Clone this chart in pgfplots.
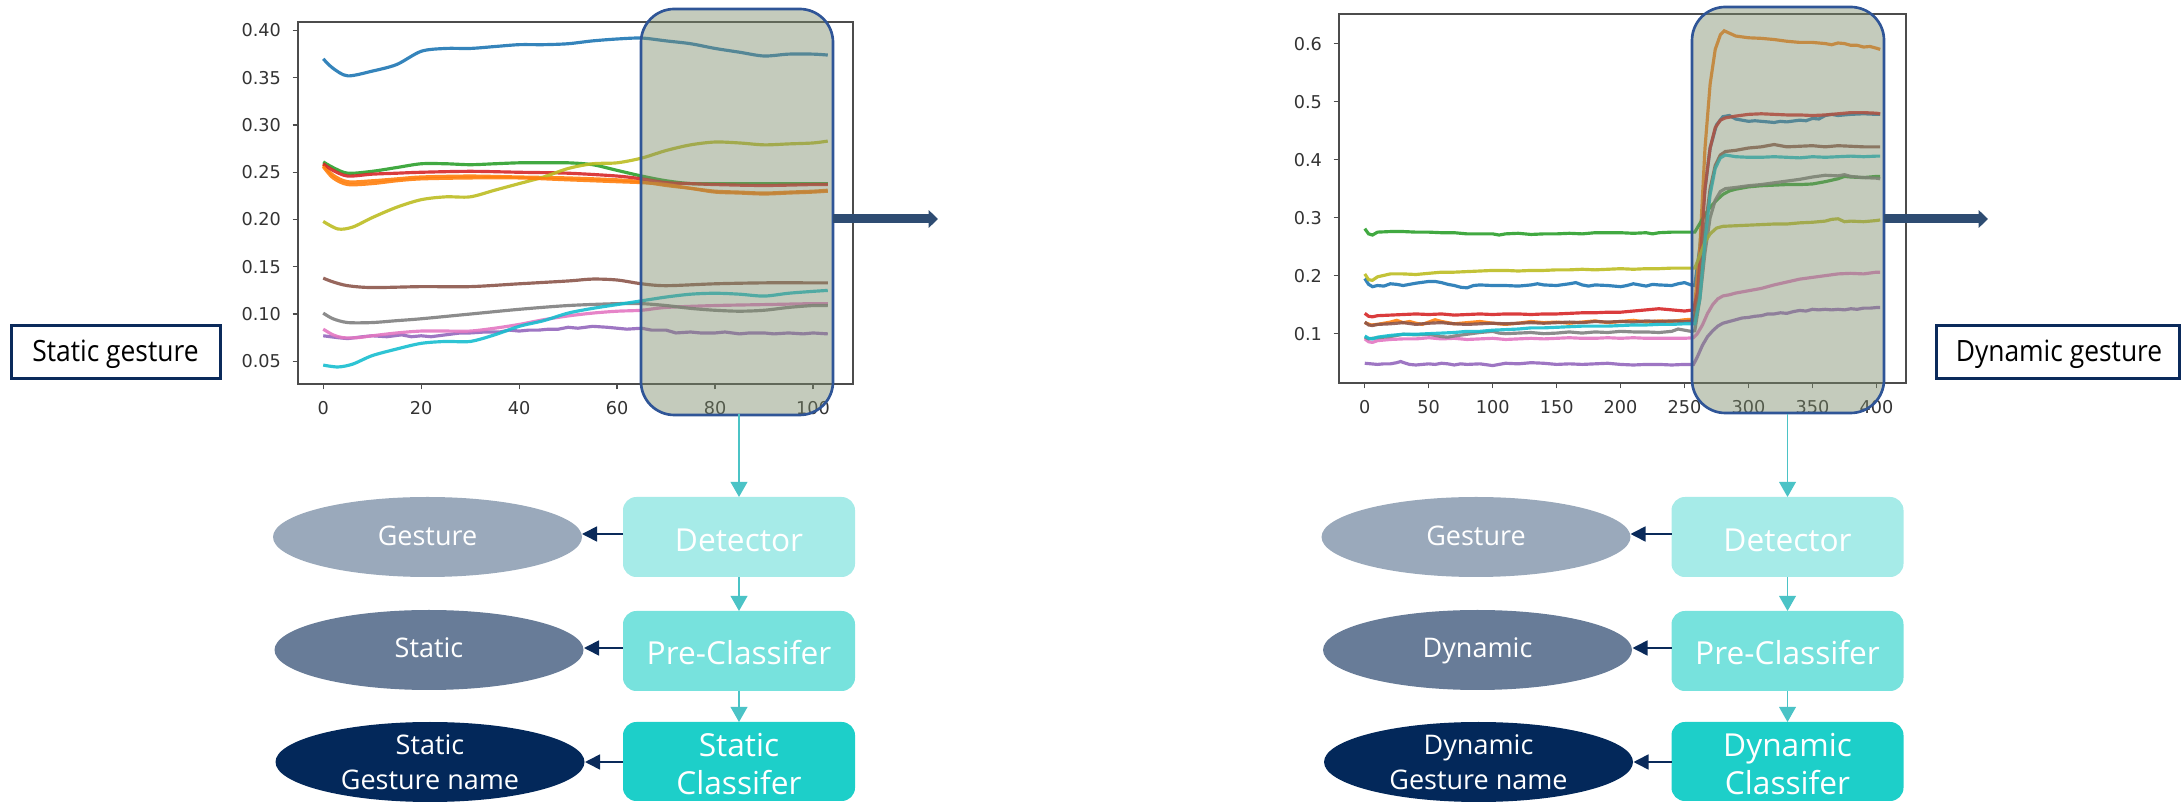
\documentclass[border=0pt]{standalone}
\usepackage{fontspec}
\usepackage{pgfplots}
\pgfplotsset{compat=1.18}
\usetikzlibrary{arrows.meta}
\setmainfont{Open Sans}
\newfontfamily\tickfont{DejaVu Sans}
\newfontfamily\labfont[FakeStretch=0.9]{Open Sans}
\definecolor{C0}{HTML}{1F77B4}
\definecolor{C1}{HTML}{FF7F0E}
\definecolor{C2}{HTML}{2CA02C}
\definecolor{C3}{HTML}{D62728}
\definecolor{C4}{HTML}{9467BD}
\definecolor{C5}{HTML}{8C564B}
\definecolor{C6}{HTML}{E377C2}
\definecolor{C7}{HTML}{7F7F7F}
\definecolor{C8}{HTML}{BCBD22}
\definecolor{C9}{HTML}{17BECF}
\definecolor{detc}{HTML}{A6EBE8}
\definecolor{prec}{HTML}{77E2DD}
\definecolor{clsc}{HTML}{1DCFC9}
\definecolor{ellA}{HTML}{9AA9BB}
\definecolor{ellB}{HTML}{687C98}
\definecolor{ellC}{HTML}{03285A}
\definecolor{navy}{HTML}{0A2A5A}
\definecolor{tealarr}{HTML}{4BC3C6}
\definecolor{bigarr}{HTML}{2E4C72}
\definecolor{hlb}{HTML}{2F5597}
\definecolor{hlf}{RGB}{124,139,106}
\definecolor{boxb}{HTML}{0B2A5B}
\begin{document}
\begin{tikzpicture}[x=0.3pt,y=-0.3pt]
\path[use as bounding box] (0,0) rectangle (2181,802);
\pgfplotsset{mpl/.style={scale only axis,
  axis line style={draw=black!70, line width=0.45pt},
  tick align=outside, xtick pos=bottom, ytick pos=left,
  major tick length=1.6pt,
  tick style={draw=black!70, line width=0.4pt},
  ticklabel style={font=\tickfont\fontsize{5.3}{6}\selectfont, text=black!80},
  /pgf/number format/assume math mode=true,
  every axis plot/.append style={line width=0.95pt, opacity=0.9}}}
% ---------------- left plot ----------------
\begin{axis}[mpl, at={(89.4pt,-115.2pt)}, anchor=south west, width=166.5pt, height=108.6pt,
  xmin=-5.15, xmax=108.15, ymin=0.026, ymax=0.409,
  xtick={0,20,40,60,80,100}, ytick={0.05,0.1,0.15,0.2,0.25,0.3,0.35,0.4},
  yticklabel style={/pgf/number format/.cd, fixed, fixed zerofill, precision=2}]
\addplot[C0, smooth] coordinates {(0,0.370)(2,0.360)(5,0.352)(10,0.357)(15,0.364)(20,0.378)(25,0.381)(30,0.381)(35,0.383)(40,0.385)(45,0.385)(50,0.386)(55,0.389)(60,0.391)(65,0.392)(70,0.389)(75,0.386)(80,0.381)(85,0.377)(90,0.373)(95,0.375)(100,0.375)(103,0.374)};
\addplot[C1, smooth] coordinates {(0,0.258)(2,0.247)(5,0.240)(10,0.241)(15,0.243)(20,0.245)(30,0.246)(40,0.245)(50,0.244)(60,0.242)(65,0.240)(70,0.236)(75,0.233)(80,0.230)(85,0.229)(90,0.228)(95,0.229)(100,0.230)(103,0.231)};
\addplot[C2, smooth] coordinates {(0,0.261)(2,0.255)(5,0.249)(10,0.251)(15,0.255)(20,0.259)(25,0.259)(30,0.258)(35,0.259)(40,0.260)(45,0.260)(50,0.260)(55,0.258)(60,0.252)(65,0.246)(70,0.241)(75,0.238)(80,0.238)(90,0.238)(100,0.238)(103,0.238)};
\addplot[C3, smooth] coordinates {(0,0.259)(2,0.252)(5,0.246)(10,0.248)(15,0.249)(20,0.250)(30,0.251)(40,0.250)(50,0.249)(60,0.246)(65,0.243)(70,0.239)(75,0.238)(80,0.237)(90,0.236)(100,0.237)(103,0.237)};
\addplot[C4] coordinates {(0,0.077)(3,0.075)(5,0.074)(8,0.076)(10,0.077)(13,0.076)(16,0.078)(18,0.076)(20,0.077)(22,0.076)(25,0.078)(28,0.080)(30,0.080)(33,0.081)(36,0.081)(38,0.083)(40,0.082)(42,0.083)(44,0.083)(46,0.084)(48,0.084)(50,0.086)(52,0.085)(55,0.087)(58,0.086)(60,0.085)(62,0.084)(65,0.085)(67,0.083)(70,0.083)(72,0.080)(75,0.081)(77,0.080)(80,0.080)(82,0.081)(85,0.079)(87,0.080)(90,0.080)(92,0.079)(95,0.080)(98,0.079)(100,0.080)(103,0.079)};
\addplot[C5, smooth] coordinates {(0,0.138)(2,0.134)(5,0.130)(10,0.128)(20,0.129)(30,0.129)(40,0.132)(50,0.135)(55,0.137)(60,0.136)(65,0.132)(70,0.130)(80,0.132)(90,0.133)(100,0.133)(103,0.133)};
\addplot[C6, smooth] coordinates {(0,0.084)(2,0.078)(4,0.075)(7,0.075)(10,0.077)(15,0.080)(20,0.082)(25,0.082)(30,0.082)(35,0.085)(40,0.089)(45,0.094)(50,0.098)(55,0.101)(60,0.103)(65,0.104)(70,0.107)(80,0.109)(90,0.110)(100,0.111)(103,0.111)};
\addplot[C7, smooth] coordinates {(0,0.101)(2,0.095)(5,0.091)(10,0.091)(15,0.093)(20,0.095)(30,0.100)(40,0.105)(50,0.109)(60,0.111)(65,0.111)(70,0.109)(75,0.106)(80,0.104)(85,0.103)(90,0.104)(95,0.107)(100,0.109)(103,0.109)};
\addplot[C8, smooth] coordinates {(0,0.198)(3,0.190)(6,0.192)(10,0.202)(15,0.213)(20,0.221)(25,0.224)(30,0.224)(35,0.231)(40,0.238)(45,0.245)(50,0.254)(55,0.259)(60,0.260)(65,0.265)(70,0.273)(75,0.279)(80,0.282)(85,0.281)(90,0.279)(95,0.280)(100,0.281)(103,0.283)};
\addplot[C9, smooth] coordinates {(0,0.046)(3,0.044)(6,0.047)(10,0.056)(15,0.063)(20,0.069)(25,0.071)(30,0.071)(35,0.078)(40,0.087)(45,0.093)(50,0.101)(55,0.106)(60,0.110)(65,0.114)(70,0.118)(75,0.121)(80,0.122)(85,0.121)(90,0.119)(95,0.122)(100,0.124)(103,0.125)};
\addplot[C1, smooth] coordinates {(0,0.256)(2,0.244)(5,0.237)(10,0.238)(15,0.241)(20,0.243)(30,0.244)(40,0.244)(50,0.242)(60,0.240)(65,0.239)(70,0.237)(75,0.233)(80,0.229)(85,0.228)(90,0.227)(95,0.228)(100,0.229)(103,0.230)};
\end{axis}
% ---------------- right plot ----------------
\begin{axis}[mpl, at={(401.7pt,-114.9pt)}, anchor=south west, width=170.1pt, height=110.7pt,
  xmin=-20.15, xmax=423.15, ymin=0.015, ymax=0.651,
  xtick={0,50,100,150,200,250,300,350,400}, ytick={0.1,0.2,0.3,0.4,0.5,0.6},
  yticklabel style={/pgf/number format/.cd, fixed, fixed zerofill, precision=1}]
\addplot[C0] coordinates {(0,0.195)(3,0.185)(6,0.181)(10,0.183)(15,0.182)(20,0.186)(25,0.185)(30,0.183)(40,0.187)(50,0.190)(55,0.190)(60,0.188)(65,0.185)(70,0.183)(75,0.180)(80,0.179)(85,0.183)(90,0.184)(100,0.183)(110,0.183)(120,0.182)(130,0.184)(135,0.186)(140,0.184)(150,0.183)(160,0.186)(165,0.188)(170,0.184)(175,0.182)(180,0.184)(190,0.183)(200,0.181)(205,0.183)(210,0.186)(215,0.184)(220,0.182)(225,0.185)(230,0.184)(240,0.183)(245,0.186)(250,0.188)(255,0.184)(258,0.183)(262,0.25)(266,0.35)(270,0.42)(275,0.46)(280,0.474)(285,0.476)(290,0.470)(295,0.468)(300,0.466)(305,0.467)(310,0.466)(320,0.464)(325,0.466)(330,0.465)(340,0.468)(345,0.467)(350,0.471)(355,0.470)(360,0.476)(365,0.478)(370,0.476)(380,0.478)(390,0.479)(400,0.478)(403,0.478)};
\addplot[C1] coordinates {(0,0.119)(5,0.115)(10,0.116)(15,0.118)(20,0.120)(25,0.123)(30,0.119)(35,0.121)(40,0.118)(45,0.116)(50,0.120)(55,0.124)(60,0.121)(70,0.117)(80,0.119)(90,0.121)(100,0.118)(110,0.116)(120,0.118)(130,0.121)(140,0.119)(150,0.120)(160,0.118)(170,0.120)(180,0.122)(190,0.119)(200,0.121)(210,0.123)(220,0.120)(230,0.122)(240,0.121)(250,0.124)(257,0.125)(262,0.25)(266,0.42)(270,0.53)(274,0.59)(278,0.615)(281,0.622)(285,0.618)(290,0.613)(300,0.610)(310,0.609)(320,0.607)(330,0.604)(340,0.602)(350,0.602)(360,0.600)(365,0.598)(370,0.601)(375,0.600)(380,0.597)(385,0.597)(390,0.594)(395,0.595)(400,0.592)(403,0.590)};
\addplot[C2] coordinates {(0,0.281)(3,0.272)(6,0.270)(10,0.275)(20,0.276)(30,0.276)(40,0.275)(50,0.275)(60,0.274)(70,0.274)(80,0.272)(90,0.272)(100,0.272)(105,0.270)(110,0.272)(120,0.273)(130,0.271)(140,0.272)(150,0.272)(160,0.273)(170,0.272)(180,0.274)(190,0.274)(200,0.274)(210,0.273)(220,0.274)(225,0.272)(230,0.274)(240,0.275)(250,0.275)(258,0.275)(262,0.290)(266,0.305)(270,0.318)(275,0.330)(280,0.340)(285,0.346)(290,0.349)(300,0.353)(310,0.355)(320,0.356)(330,0.357)(340,0.357)(350,0.358)(360,0.362)(370,0.367)(375,0.371)(380,0.370)(390,0.369)(400,0.371)(403,0.371)};
\addplot[C3] coordinates {(0,0.135)(3,0.130)(6,0.129)(10,0.131)(20,0.132)(30,0.133)(40,0.134)(50,0.133)(60,0.134)(70,0.132)(80,0.133)(90,0.134)(100,0.133)(110,0.134)(120,0.134)(130,0.133)(140,0.134)(150,0.134)(160,0.135)(170,0.136)(180,0.136)(190,0.137)(200,0.137)(210,0.139)(220,0.141)(230,0.143)(240,0.141)(250,0.139)(257,0.141)(260,0.17)(263,0.25)(266,0.35)(270,0.42)(274,0.455)(278,0.468)(282,0.472)(290,0.475)(300,0.478)(310,0.479)(320,0.478)(330,0.477)(340,0.477)(350,0.476)(360,0.477)(370,0.479)(380,0.481)(390,0.481)(400,0.480)(403,0.479)};
\addplot[C4] coordinates {(0,0.049)(5,0.048)(10,0.047)(15,0.048)(20,0.048)(25,0.050)(28,0.052)(32,0.049)(35,0.047)(40,0.046)(45,0.047)(50,0.048)(55,0.047)(60,0.049)(65,0.048)(70,0.046)(75,0.048)(80,0.047)(90,0.048)(100,0.045)(105,0.047)(110,0.049)(120,0.048)(130,0.050)(140,0.049)(150,0.047)(160,0.048)(170,0.047)(180,0.048)(190,0.049)(200,0.047)(210,0.046)(220,0.047)(230,0.047)(240,0.046)(250,0.047)(257,0.047)(260,0.060)(264,0.080)(268,0.095)(272,0.105)(276,0.113)(280,0.118)(285,0.121)(290,0.124)(295,0.127)(300,0.128)(305,0.130)(310,0.131)(315,0.134)(320,0.134)(325,0.136)(330,0.135)(335,0.138)(340,0.140)(345,0.139)(350,0.142)(355,0.141)(360,0.142)(365,0.141)(370,0.142)(375,0.141)(380,0.143)(385,0.142)(390,0.144)(395,0.144)(400,0.145)(403,0.145)};
\addplot[C5] coordinates {(0,0.120)(3,0.115)(6,0.114)(10,0.116)(20,0.117)(30,0.119)(40,0.116)(50,0.118)(60,0.119)(70,0.117)(80,0.116)(90,0.117)(100,0.118)(110,0.117)(120,0.118)(130,0.119)(140,0.118)(150,0.119)(160,0.120)(170,0.119)(180,0.121)(190,0.120)(200,0.121)(210,0.120)(220,0.122)(230,0.121)(240,0.122)(250,0.121)(257,0.122)(262,0.17)(266,0.28)(270,0.35)(274,0.39)(278,0.408)(282,0.414)(290,0.416)(300,0.420)(310,0.422)(320,0.426)(325,0.424)(330,0.422)(340,0.423)(350,0.424)(360,0.422)(370,0.424)(380,0.423)(390,0.422)(400,0.422)(403,0.422)};
\addplot[C6] coordinates {(0,0.091)(3,0.086)(6,0.085)(10,0.088)(20,0.090)(30,0.091)(40,0.091)(50,0.093)(60,0.091)(70,0.092)(80,0.090)(90,0.091)(100,0.092)(110,0.090)(120,0.091)(130,0.092)(140,0.091)(150,0.092)(160,0.093)(170,0.092)(180,0.092)(190,0.093)(200,0.092)(210,0.093)(220,0.092)(230,0.092)(240,0.092)(250,0.092)(257,0.093)(260,0.100)(264,0.115)(268,0.135)(272,0.150)(276,0.160)(280,0.165)(285,0.167)(290,0.170)(300,0.174)(310,0.178)(320,0.184)(330,0.189)(340,0.194)(350,0.197)(360,0.200)(370,0.203)(380,0.204)(390,0.203)(400,0.206)(403,0.206)};
\addplot[C7] coordinates {(0,0.094)(3,0.091)(6,0.092)(10,0.093)(20,0.095)(30,0.099)(40,0.098)(50,0.099)(55,0.097)(60,0.095)(65,0.094)(70,0.096)(80,0.099)(90,0.102)(100,0.104)(105,0.101)(110,0.100)(120,0.101)(130,0.102)(140,0.100)(150,0.101)(160,0.103)(170,0.101)(180,0.103)(190,0.102)(200,0.104)(210,0.103)(220,0.103)(230,0.102)(240,0.104)(245,0.108)(250,0.106)(255,0.104)(258,0.105)(262,0.16)(266,0.24)(270,0.30)(274,0.33)(278,0.345)(282,0.350)(290,0.352)(300,0.355)(310,0.357)(320,0.360)(330,0.363)(340,0.366)(350,0.370)(360,0.373)(370,0.372)(375,0.374)(380,0.371)(390,0.369)(400,0.368)(403,0.367)};
\addplot[C8] coordinates {(0,0.203)(3,0.193)(6,0.192)(10,0.198)(20,0.203)(30,0.203)(40,0.202)(50,0.204)(60,0.206)(70,0.206)(80,0.207)(90,0.208)(100,0.209)(110,0.209)(120,0.208)(130,0.209)(140,0.209)(150,0.210)(160,0.210)(170,0.211)(180,0.210)(190,0.211)(200,0.212)(210,0.211)(220,0.212)(230,0.212)(240,0.213)(250,0.213)(258,0.213)(262,0.235)(266,0.258)(270,0.272)(275,0.282)(280,0.285)(290,0.286)(300,0.287)(310,0.288)(320,0.289)(330,0.289)(340,0.291)(350,0.292)(360,0.294)(365,0.297)(370,0.298)(375,0.293)(380,0.294)(390,0.293)(400,0.295)(403,0.296)};
\addplot[C9] coordinates {(0,0.096)(3,0.092)(6,0.091)(10,0.094)(20,0.097)(30,0.099)(40,0.099)(50,0.100)(60,0.101)(70,0.102)(80,0.104)(90,0.104)(100,0.106)(110,0.107)(120,0.108)(130,0.110)(140,0.110)(150,0.111)(160,0.112)(170,0.113)(180,0.113)(190,0.113)(200,0.114)(210,0.115)(220,0.115)(230,0.116)(240,0.116)(250,0.117)(258,0.117)(262,0.16)(266,0.26)(270,0.34)(274,0.385)(278,0.403)(282,0.408)(290,0.405)(300,0.404)(310,0.404)(320,0.405)(330,0.404)(340,0.403)(350,0.405)(360,0.404)(370,0.405)(380,0.406)(390,0.405)(400,0.406)(403,0.406)};
\end{axis}
% ---------------- highlights and big arrows ----------------
\draw[draw=hlb, line width=0.8pt, fill=hlf, fill opacity=0.45, rounded corners=10pt] (641,9) rectangle (833,415);
\draw[draw=hlb, line width=0.8pt, fill=hlf, fill opacity=0.45, rounded corners=10pt] (1692,7) rectangle (1884,413);
\draw[bigarr, line width=2.7pt, -{Triangle[length=2.8pt,width=5.2pt]}] (833,219) -- (938,219);
\draw[bigarr, line width=2.7pt, -{Triangle[length=2.8pt,width=5.2pt]}] (1884,219) -- (1988,219);
% ---------------- gesture label boxes ----------------
\draw[boxb, line width=0.9pt, fill=white] (11,326) rectangle (220,379);
\node[anchor=base, font=\labfont\fontsize{8.8}{10}\selectfont, text=black, inner sep=0pt] at (115.5,362) {Static gesture};
\draw[boxb, line width=0.9pt, fill=white] (1936,326) rectangle (2179,379);
\node[anchor=base, font=\labfont\fontsize{8.8}{10}\selectfont, text=black, inner sep=0pt] at (2059,362) {Dynamic gesture};
% ---------------- flow charts ----------------
\foreach \dx/\mid/\cla/\clb/\ela/\elb in {0/Static/Static/Classifer/Static/Gesture name, 1048.5/Dynamic/Dynamic/Classifer/Dynamic/Gesture name}{
\begin{scope}[xshift=\dx*0.3pt]
\draw[tealarr, line width=0.45pt, -{Triangle[length=4.5pt,width=5pt]}] (739,414) -- (739,497);
\draw[tealarr, line width=0.45pt, -{Triangle[length=4.5pt,width=5pt]}] (739,577) -- (739,611);
\draw[tealarr, line width=0.45pt, -{Triangle[length=4.5pt,width=5pt]}] (739,691) -- (739,722);
\fill[detc, rounded corners=4pt] (623,497) rectangle (855,577);
\fill[prec, rounded corners=4pt] (623,611) rectangle (855,691);
\fill[clsc, rounded corners=4pt] (623,722) rectangle (855,801);
\fill[ellA] (427.5,537) ellipse [x radius=46.35pt, y radius=12pt];
\fill[ellB] (429,650) ellipse [x radius=46.35pt, y radius=12pt];
\fill[ellC] (430,762) ellipse [x radius=46.35pt, y radius=12pt];
\draw[navy, line width=0.5pt, -{Triangle[length=4.5pt,width=4.5pt]}] (623,534) -- (582,534);
\draw[navy, line width=0.5pt, -{Triangle[length=4.5pt,width=4.5pt]}] (623,648) -- (584,648);
\draw[navy, line width=0.5pt, -{Triangle[length=4.5pt,width=4.5pt]}] (623,762) -- (585,762);
\begin{scope}[every node/.style={anchor=base, text=white, inner sep=0pt}]
\node[font=\fontsize{9.5}{11}\selectfont] at (739,552) {Detector};
\node[font=\fontsize{9.5}{11}\selectfont] at (739,665) {Pre-Classifer};
\node[font=\fontsize{9.5}{11}\selectfont] at (739,757) {\cla};
\node[font=\fontsize{9.5}{11}\selectfont] at (739,794) {\clb};
\node[font=\fontsize{8.1}{10}\selectfont] at (427.5,546) {Gesture};
\node[font=\fontsize{8.1}{10}\selectfont] at (429,658) {\mid};
\node[font=\fontsize{8.1}{10}\selectfont] at (430,755) {\ela};
\node[font=\fontsize{8.1}{10}\selectfont] at (430,790) {\elb};
\end{scope}
\end{scope}
}
\end{tikzpicture}
\end{document}
